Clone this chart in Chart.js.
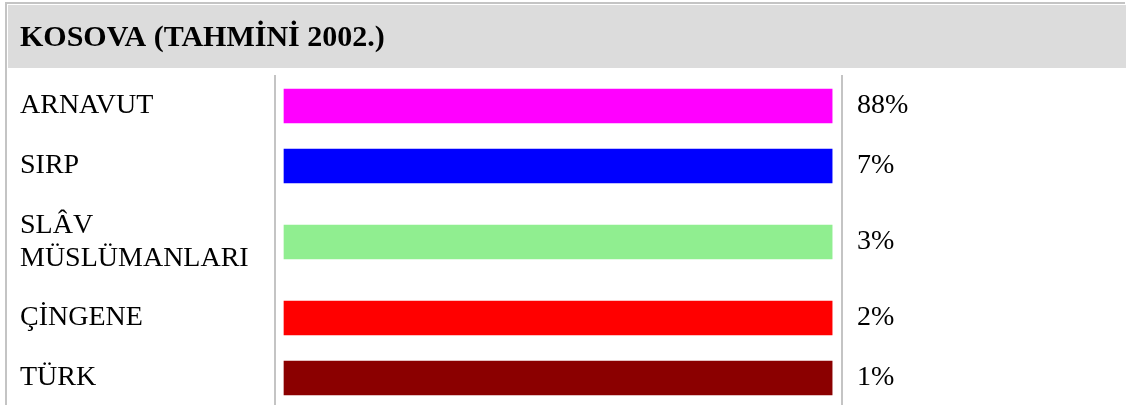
<!DOCTYPE html>
<html>
<head>
<meta charset="utf-8">
<script src="https://cdn.jsdelivr.net/npm/chart.js@4/dist/chart.umd.min.js"></script>
<style>
  html, body { margin: 0; padding: 0; background: #ffffff; }
  canvas { display: block; }
</style>
</head>
<body>
<canvas id="c" width="1126" height="405"></canvas>
<script>
// ---- data ----
const titleText = "KOSOVA (TAHMİNİ 2002.)";
const categories = [["ARNAVUT"], ["SIRP"], ["SLÂV", "MÜSLÜMANLARI"], ["ÇİNGENE"], ["TÜRK"]];
const percentages = [88, 7, 3, 2, 1];
const barLengths = [100, 100, 100, 100, 100]; // every bar is drawn full width in the reference
const barColors = ["#ff00ff", "#0000ff", "#90ee90", "#ff0000", "#8b0000"];

// ---- layout helpers (row height grows with number of label lines) ----
const ROW_BASE = 28, ROW_PER_LINE = 32;
const rowHeights = categories.map(l => ROW_BASE + ROW_PER_LINE * l.length);
const rowCenters = [];
let acc = 0;
rowHeights.forEach(h => { rowCenters.push(acc + h / 2); acc += h; });

const FONT = "'Liberation Serif', 'Times New Roman', serif";
const W = 1126, H = 405;
const AREA_LEFT = 275, AREA_RIGHT = 842, AREA_TOP = 76, PAD_LEFT = 20;

const frame = {
  id: 'frame',
  beforeDraw(chart) {
    const ctx = chart.ctx;
    ctx.save();
    ctx.fillStyle = '#ffffff';
    ctx.fillRect(0, 0, W, H);
    ctx.fillStyle = '#dcdcdc';
    ctx.fillRect(8, 5, W - 8, 63);
    ctx.strokeStyle = '#c4c4c4';
    ctx.lineWidth = 2;
    ctx.beginPath();
    ctx.moveTo(5, 3); ctx.lineTo(W - 1, 3);
    ctx.moveTo(6, 2); ctx.lineTo(6, H);
    ctx.stroke();
    ctx.restore();
  }
};

const noEdgePadding = s => { s.paddingTop = 0; s.paddingBottom = 0; };

new Chart(document.getElementById('c'), {
  type: 'bar',
  data: {
    datasets: [{
      data: rowCenters.map((c, i) => ({ x: barLengths[i], y: c })),
      backgroundColor: barColors,
      borderWidth: 0,
      barThickness: 34
    }]
  },
  options: {
    indexAxis: 'y',
    responsive: false,
    animation: false,
    devicePixelRatio: 1,
    layout: { padding: { left: PAD_LEFT, right: 0, top: 0, bottom: 0 } },
    plugins: {
      legend: { display: false },
      tooltip: { enabled: false },
      title: {
        display: true,
        text: titleText,
        align: 'start',
        color: '#000000',
        font: { family: FONT, size: 30, weight: 'bold', lineHeight: 1.2 },
        padding: { top: 20, bottom: 20 }
      }
    },
    scales: {
      x: {
        type: 'linear',
        display: false,
        min: -1.64,
        max: 101.8
      },
      y: {
        type: 'linear',
        position: 'left',
        reverse: true,
        offset: false,
        min: 0,
        max: H - AREA_TOP,
        grid: { display: false, drawTicks: false },
        border: { display: true, color: '#c4c4c4', width: 2 },
        afterBuildTicks: s => { s.ticks = rowCenters.map(v => ({ value: v })); },
        afterFit: s => { s.width = AREA_LEFT - PAD_LEFT; noEdgePadding(s); },
        ticks: {
          autoSkip: false,
          crossAlign: 'far',
          color: '#000000',
          font: { family: FONT, size: 28, lineHeight: 1.2 },
          callback: (v, i) => categories[i]
        }
      },
      y2: {
        type: 'linear',
        position: 'right',
        reverse: true,
        offset: false,
        min: 0,
        max: H - AREA_TOP,
        grid: { display: false, drawTicks: false },
        border: { display: true, color: '#c4c4c4', width: 2 },
        afterBuildTicks: s => { s.ticks = rowCenters.map(v => ({ value: v })); },
        afterFit: s => { s.width = W - AREA_RIGHT; noEdgePadding(s); },
        ticks: {
          autoSkip: false,
          padding: 15,
          color: '#000000',
          font: { family: FONT, size: 28, lineHeight: 1.2 },
          callback: (v, i) => percentages[i] + '%'
        }
      }
    }
  },
  plugins: [frame]
});
</script>
</body>
</html>
